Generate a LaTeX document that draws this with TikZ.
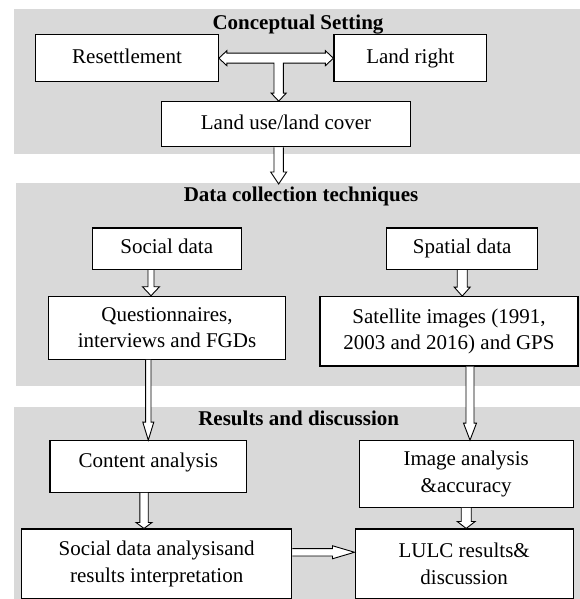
\documentclass[tikz,border=0pt]{standalone}
\usepackage{fontspec}
\setmainfont{Liberation Serif}
\usetikzlibrary{calc}
\definecolor{panelgray}{HTML}{D9D9D9}
\tikzset{
  box/.style={draw=black, line width=1.1pt, fill=white, inner sep=0pt, align=center,
    font=\fontsize{21}{26.5}\selectfont},
  one/.style={text height=15pt, text depth=5pt},
  ttl/.style={font=\fontsize{21}{26}\selectfont\bfseries, anchor=base, inner sep=0pt},
  blk/.style={draw=black, line width=0.9pt, fill=white, line join=miter},
}
% vertical block arrow: from, to, shaft half width, head half width, head length
\newcommand\vblockarr[5]{%
  \draw[blk] ($(#1)+(-#3,0)$) -- ($(#2)+(-#3,-#5)$) -- ($(#2)+(-#4,-#5)$) -- (#2)
    -- ($(#2)+(#4,-#5)$) -- ($(#2)+(#3,-#5)$) -- ($(#1)+(#3,0)$);}
% horizontal block arrow (to the right)
\newcommand\hblockarr[5]{%
  \draw[blk] ($(#1)+(0,-#3)$) -- ($(#2)+(-#5,-#3)$) -- ($(#2)+(-#5,-#4)$) -- (#2)
    -- ($(#2)+(-#5,#4)$) -- ($(#2)+(-#5,#3)$) -- ($(#1)+(0,#3)$);}
\begin{document}
\begin{tikzpicture}[x=1pt,y=-1pt]
\useasboundingbox (0,0) rectangle (579,599);
\fill[white] (0,0) rectangle (579,599);
% panels
\fill[panelgray] (14,9.3) rectangle (585,154);
\fill[panelgray] (16,182.7) rectangle (585,386);
\fill[panelgray] (14,407.3) rectangle (585,610);
% titles
\node[ttl] (t1) at (298,29.3) {Conceptual Setting};
\node[ttl] (t2) at (301,201) {Data collection techniques};
\node[ttl] (t3) at (298.7,425) {Results and discussion};
% boxes
\node[box, one, minimum width=182.6pt, minimum height=47pt] (res) at (127,58.2) {Resettlement};
\node[box, one, minimum width=152.7pt, minimum height=47pt] (land) at (410.3,58.2) {Land right};
\node[box, one, minimum width=249.4pt, minimum height=45pt] (luc) at (286,124.2) {Land use/land cover};
\node[box, one, minimum width=148.7pt, minimum height=41.7pt] (soc) at (166.7,248.8) {Social data};
\node[box, one, minimum width=151pt, minimum height=41.7pt] (spa) at (462.2,248.8) {Spatial data};
\node[box, minimum width=237.4pt, minimum height=63pt] (q) at (167,327.8) {Questionnaires,\\interviews and FGDs};
\node[box, minimum width=258pt, minimum height=69.3pt] (sat) at (449,331.3) {Satellite images (1991,\\2003 and 2016) and GPS};
\node[box, text height=15pt, text depth=13.4pt, minimum width=196.7pt, minimum height=51.6pt] (ca) at (148.3,466.5) {Content analysis};
\node[box, minimum width=214.3pt, minimum height=66.6pt] (ia) at (466.2,474) {Image analysis\\\&accuracy};
\node[box, minimum width=270pt, minimum height=69.5pt] (sda) at (156.7,563.75) {Social data analysisand\\results interpretation};
\node[box, minimum width=218.3pt, minimum height=69.5pt] (lr) at (464.2,563.75) {LULC results\&\\discussion};
% T-shaped double arrow between Resettlement, Land right and Land use
\coordinate (tx) at (278.7,0);
\draw[blk] (res.east) -- ++(8,-7.5) -- ++(0,2.5) -- ($(land.west)+(-8,-5)$) -- ++(0,-2.5)
  -- (land.west) -- ++(-8,7.5) -- ++(0,-2.5) -- ($(tx |- res.east)+(4.7,5)$)
  -- ($(tx |- luc.north)+(4.7,-8)$) -- ++(2.8,0) -- (tx |- luc.north) -- ++(-7.5,-8)
  -- ++(2.8,0) -- ($(tx |- res.east)+(-4.7,5)$) -- ($(res.east)+(8,5)$) -- ++(0,2.5) -- cycle;
% arrow coordinates
\coordinate (a2s) at (tx |- luc.south);
\coordinate (p2top) at (278.7,184);
\path (soc.south) ++(-15.7,0) coordinate (a3s);
\coordinate (a3e) at (a3s |- q.north);
\coordinate (a4e) at (spa.south |- sat.north);
\coordinate (a5s) at (ca.north |- q.south);
\path (ia.north) ++(3.8,0) coordinate (a6e);
\coordinate (a6s) at (a6e |- sat.south);
\path (ca.south) ++(-4.3,0) coordinate (a7s);
\coordinate (a7e) at (a7s |- sda.north);
\coordinate (a8e) at (ia.south |- lr.north);
\path (sda.east) ++(0,-11.5) coordinate (a9s);
\coordinate (a9e) at (lr.west |- a9s);
% arrows
\vblockarr{a2s}{p2top}{4.7}{8}{12}
\vblockarr{a3s}{a3e}{3}{8.5}{9}
\vblockarr{spa.south}{a4e}{5}{8}{9}
\vblockarr{a5s}{ca.north}{2.7}{5.5}{18}
\vblockarr{a6s}{a6e}{4}{6.5}{17}
\vblockarr{a7s}{a7e}{4.2}{8}{6}
\vblockarr{ia.south}{a8e}{5}{9}{7}
\hblockarr{a9s}{a9e}{3.7}{6.5}{22}
\end{tikzpicture}
\end{document}
